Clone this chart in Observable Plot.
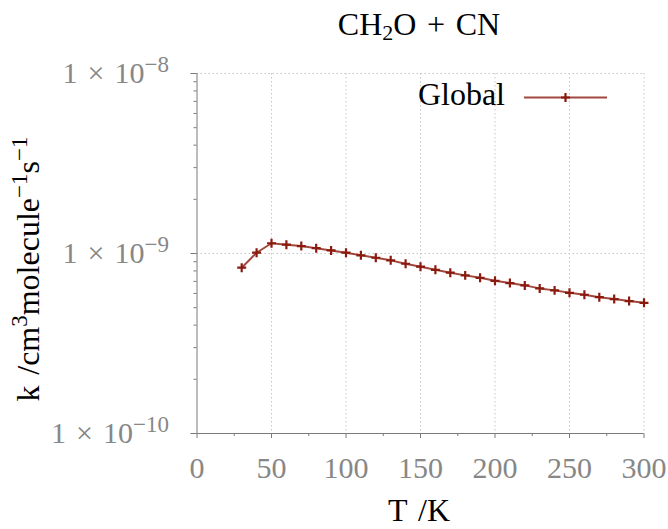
<!DOCTYPE html>
<html><head><meta charset="utf-8">
<script src="https://cdn.jsdelivr.net/npm/d3@7"></script>
<script src="https://cdn.jsdelivr.net/npm/@observablehq/plot@0.6"></script>
<style>
html,body{margin:0;padding:0;background:#fff;}
svg{display:block;}
</style></head><body><div id="chart"></div>
<script>
// ---- data ----
const temperatures = [30,40,50,60,70,80,90,100,110,120,130,140,150,160,170,180,190,200,210,220,230,240,250,260,270,280,290,300];
const rates = [0.834e-9,1.01e-9,1.14e-9,1.12e-9,1.10e-9,1.07e-9,1.04e-9,1.01e-9,0.977e-9,0.947e-9,0.916e-9,0.877e-9,0.845e-9,0.812e-9,0.782e-9,0.756e-9,0.733e-9,0.705e-9,0.685e-9,0.665e-9,0.640e-9,0.624e-9,0.605e-9,0.590e-9,0.572e-9,0.558e-9,0.544e-9,0.532e-9];
const xTicks = [0,50,100,150,200,250,300];
const xMinorTicks = [25,75,125,175,225,275];
const yTicks = [1e-10,1e-9,1e-8];
const yMinorTicks = [2e-10,3e-10,4e-10,5e-10,6e-10,7e-10,8e-10,9e-10,2e-9,3e-9,4e-9,5e-9,6e-9,7e-9,8e-9,9e-9];
const seriesName = "Global";
const xLabel = "T\u2004/K";

const font = "'Liberation Serif','DejaVu Serif',serif";
const lineColor = "#8b1a0e";
const gridStyle = {stroke:"#c4c4c4", strokeWidth:1, strokeDasharray:"1.5,2.5"};
const data = temperatures.map((T,i)=>({T, k: rates[i]}));

const plot = Plot.plot({
  width: 668, height: 529,
  marginLeft: 196.5, marginRight: 24.5, marginTop: 73, marginBottom: 96,
  style: {fontFamily: font, fontSize: "30px", background: "#fff", overflow: "visible"},
  x: {domain: [0,300]},
  y: {type: "log", domain: [1e-10, 1e-8]},
  marks: [
    Plot.ruleX(xTicks.slice(1), gridStyle),
    Plot.ruleY(yTicks.slice(1), gridStyle),
    Plot.axisX(xMinorTicks, {tickSize:3, tickFormat: () => "", stroke:"#7a7a7a", label:null}),
    Plot.axisX(xTicks, {tickSize:5, tickPadding:18, stroke:"#7a7a7a", fill:"#878787", fontSize:30, tickFormat: d => String(d), label:null}),
    Plot.axisY(yMinorTicks, {tickSize:3, tickFormat: () => "", stroke:"#7a7a7a", label:null}),
    Plot.axisY(yTicks, {tickSize:6, tickPadding:22, stroke:"#7a7a7a", fill:"#878787", fontSize:30, tickFormat: d => "1\u2004×\u200410|−" + Math.round(-Math.log10(d)), label:null}),
    Plot.ruleX([0], {stroke:"#7a7a7a", strokeWidth:1}),
    Plot.ruleY([1e-10], {stroke:"#7a7a7a", strokeWidth:1}),
    Plot.line(data, {x:"T", y:"k", stroke: lineColor, strokeOpacity:0.8, strokeWidth:2}),
    Plot.dot(data, {x:"T", y:"k", symbol:"plus", r:3, stroke: lineColor, strokeWidth:2.2})
  ]
});
document.getElementById("chart").appendChild(plot);

const svg = d3.select(plot);
// superscript exponents on y tick labels
svg.selectAll('g[aria-label="y-axis tick label"] text').each(function(){
  const t = d3.select(this);
  const s = this.textContent;
  if (!s.includes("|")) return;
  const [base, exp] = s.split("|");
  t.text("");
  t.append("tspan").text(base);
  t.append("tspan").attr("font-size", 23).attr("dy", -11).text(exp);
});

const ns = svg.append("g").attr("font-family", font).attr("fill", "#000");
// title
const title = ns.append("text").attr("x", 419).attr("y", 35).attr("text-anchor","middle").attr("font-size",32);
title.append("tspan").text("CH");
title.append("tspan").attr("font-size",22).attr("dy",5).text("2");
title.append("tspan").attr("dy",-5).text("O\u2004+\u2004CN");
// x label
ns.append("text").attr("x", 419).attr("y", 521).attr("text-anchor","middle").attr("font-size",32).text(xLabel);
// y label
const yl = ns.append("text").attr("transform","translate(39,269) rotate(-90)").attr("text-anchor","middle").attr("font-size",32);
yl.append("tspan").text("k\u2004/cm");
yl.append("tspan").attr("font-size",23).attr("dy",-12).text("3");
yl.append("tspan").attr("dy",12).text("molecule");
yl.append("tspan").attr("font-size",23).attr("dy",-12).text("−1");
yl.append("tspan").attr("dy",12).text("s");
yl.append("tspan").attr("font-size",23).attr("dy",-12).text("−1");
// legend
ns.append("text").attr("x", 505).attr("y", 105).attr("text-anchor","end").attr("font-size",32).text(seriesName);
ns.append("line").attr("x1",524).attr("x2",607).attr("y1",97.5).attr("y2",97.5)
  .attr("stroke",lineColor).attr("stroke-opacity",0.8).attr("stroke-width",2);
ns.append("path").attr("d","M561,97.5h9M565.5,93v9").attr("stroke",lineColor).attr("stroke-width",2.2).attr("fill","none");
</script>
</body></html>
